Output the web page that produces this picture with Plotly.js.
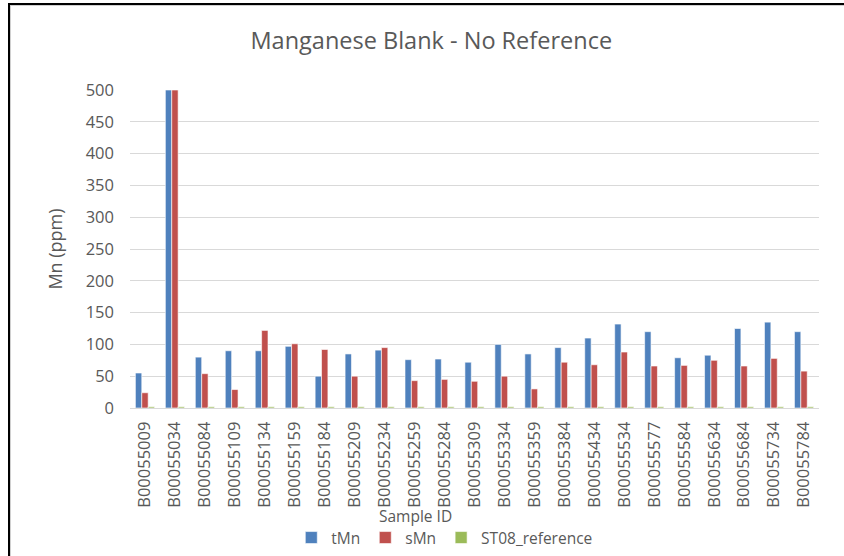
<!DOCTYPE html>
<html>
<head>
<meta charset="utf-8">
<script src="https://cdn.plot.ly/plotly-3.0.1.min.js"></script>
<style>
html,body{margin:0;padding:0;background:#fff;}
#wrap{position:relative;width:844px;height:556px;overflow:hidden;}
#chart{position:absolute;left:0;top:0;width:844px;height:556px;}
#frame{position:absolute;left:8px;top:3px;width:900px;height:600px;border-left:2px solid #000;border-top:2px solid #000;box-shadow:inset 1px 1px 0 #d0d0d0;pointer-events:none;}
</style>
</head>
<body>
<div id="wrap"><div id="chart"></div><div id="frame"></div></div>
<script>
const categories = ["B00055009","B00055034","B00055084","B00055109","B00055134","B00055159","B00055184","B00055209","B00055234","B00055259","B00055284","B00055309","B00055334","B00055359","B00055384","B00055434","B00055534","B00055577","B00055584","B00055634","B00055684","B00055734","B00055784"];
const tMn = [55,500,80,90,90,97,50,85,91,76,77,72,100,85,95,110,132,120,79,83,125,135,120];
const sMn = [24,500,54,29,122,101,92,50,95,43,45,42,50,30,72,68,88,66,67,75,66,78,58];
const st08 = [2,2,2,2,2,2,2,2,2,2,2,2,2,2,2,2,2,2,2,2,2,2,2];
const yTicks = [0,50,100,150,200,250,300,350,400,450,500];

const font = "'Open Sans', 'Noto Sans', sans-serif";
const gray = "#595959";
const line = {color:"#ffffff", width:0.6};

const traces = [
  {type:"bar", name:"tMn", x:categories, y:tMn, marker:{color:"#4F81BD", line:line}},
  {type:"bar", name:"sMn", x:categories, y:sMn, marker:{color:"#C0504D", line:line}},
  {type:"bar", name:"ST08_reference", x:categories, y:st08, marker:{color:"#9BBB59", line:line}}
];

const layout = {
  width:844, height:556,
  margin:{l:130, r:25, t:90, b:148, autoexpand:false},
  paper_bgcolor:"#fff", plot_bgcolor:"#fff",
  font:{family:font, color:gray, size:15},
  title:{text:"Manganese Blank - No Reference", font:{family:font, size:23.5, color:gray}, x:0.511, xref:"container", xanchor:"center", y:0.926, yref:"container", yanchor:"middle"},
  barmode:"group", bargap:0.36, bargroupgap:0.0,
  showlegend:true,
  legend:{orientation:"h", x:0.527, xref:"container", xanchor:"center", y:0.0324, yref:"container", yanchor:"middle", font:{size:15.5, color:gray}, traceorder:"normal", itemwidth:30},
  annotations:[{text:"Sample ID", xref:"paper", yref:"paper", x:0.415, y:-0.341, xanchor:"center", yanchor:"middle", showarrow:false, font:{size:15.5, color:gray}}],
  xaxis:{type:"category", automargin:false, tickangle:-90, tickfont:{size:16.5, color:gray}, showgrid:false, showline:true, linecolor:"#D9D9D9", linewidth:1, ticks:"", ticklabelstandoff:6},
  yaxis:{automargin:false, range:[0,500], tickvals:yTicks, ticktext:yTicks.map(String), gridcolor:"#D9D9D9", gridwidth:1, zeroline:false, showline:false, ticks:"", tickfont:{size:16.5, color:gray}, ticklabelstandoff:15,
         title:{text:"Mn (ppm)", font:{size:18, color:gray}, standoff:18}}
};

Plotly.newPlot("chart", traces, layout, {staticPlot:true, displayModeBar:false});
</script>
</body>
</html>
